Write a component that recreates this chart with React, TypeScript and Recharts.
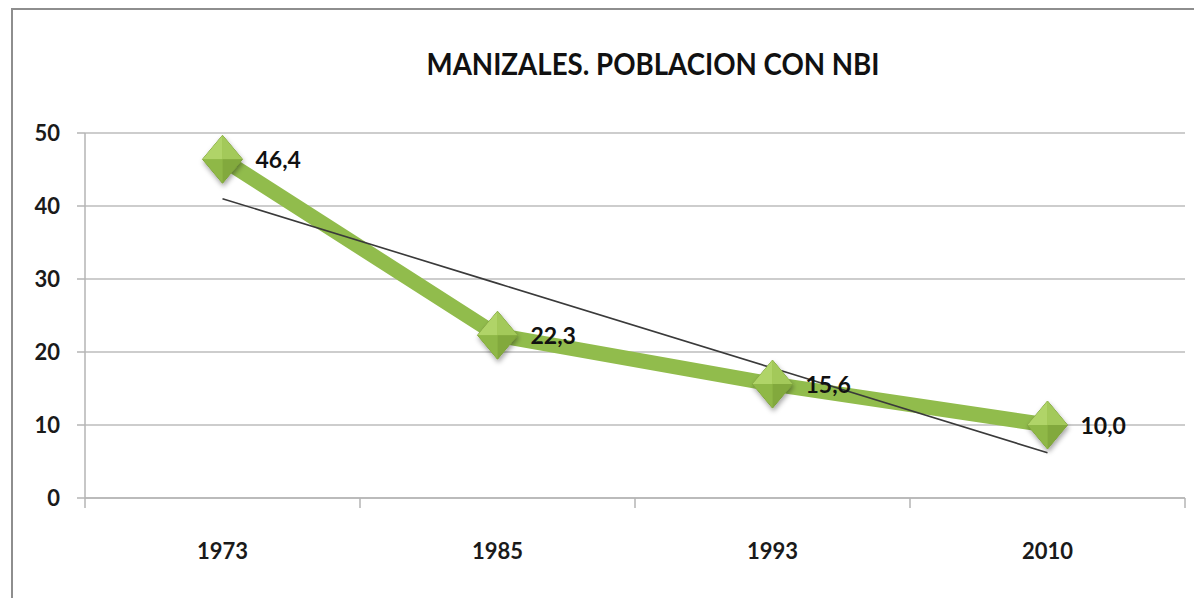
import React from 'react';
import { LineChart, Line, XAxis, YAxis, CartesianGrid, LabelList } from 'recharts';

const years = ['1973', '1985', '1993', '2010'];
const nbiValues = [46.4, 22.3, 15.6, 10.0];
const trendValues = [41.0, 29.4, 17.8, 6.2];
const yTicks = [0, 10, 20, 30, 40, 50];
const categoryIndex = [0, 1, 2, 3];
const categoryBounds = [-0.5, 0.5, 1.5, 2.5, 3.5];
const title = 'MANIZALES. POBLACION CON NBI';

const data = years.map((y, i) => ({ i: categoryIndex[i], year: y, nbi: nbiValues[i], trend: trendValues[i] }));

const FONT = 'Lato, "Open Sans", sans-serif';

const Diamond = (props: any) => {
  const { cx, cy, index } = props;
  if (cx == null || cy == null) return null;
  const w = 20;
  const h = 24;
  return (
    <g key={`d${index}`} filter="url(#dshadow)">
      <polygon points={`${cx},${cy - h} ${cx + w},${cy} ${cx},${cy + h} ${cx - w},${cy}`} fill="#94bd4a" stroke="#7a9c3a" strokeWidth={1} />
      <polygon points={`${cx},${cy - h} ${cx - w},${cy} ${cx},${cy}`} fill="#b0d468" />
      <polygon points={`${cx},${cy - h} ${cx + w},${cy} ${cx},${cy}`} fill="#a3c95a" />
      <polygon points={`${cx - w},${cy} ${cx},${cy + h} ${cx},${cy}`} fill="#8fb846" />
      <polygon points={`${cx + w},${cy} ${cx},${cy + h} ${cx},${cy}`} fill="#82a93d" />
    </g>
  );
};

const ValueLabel = (props: any) => {
  const { x, y, value, index } = props;
  if (x == null || y == null) return null;
  return (
    <text key={`l${index}`} x={x + 33} y={y} dominantBaseline="central" fontFamily={FONT} fontWeight={700} fontSize={23} fill="#111">
      {Number(value).toFixed(1).replace('.', ',')}
    </text>
  );
};

const BlankTick = () => <g />;

export default function App() {
  return (
    <div style={{ position: 'absolute', left: 0, top: 0, width: 1194, height: 598, overflow: 'hidden', background: '#fff' }}>
      <div style={{ position: 'absolute', left: 11, top: 8, width: 1300, height: 700, border: '2px solid #8e8e8e' }} />
      <div style={{ position: 'absolute', left: 0, top: 0 }}>
        <LineChart width={1194} height={598} data={data} margin={{ top: 133, right: 9, bottom: 98, left: 0 }}>
          <defs>
            <filter id="dshadow" x="-50%" y="-50%" width="200%" height="200%">
              <feDropShadow dx="1" dy="3" stdDeviation="2.5" floodColor="#000" floodOpacity="0.35" />
            </filter>
          </defs>
          <CartesianGrid horizontal={true} vertical={false} stroke="#bdbdbd" strokeWidth={1.5} />
          <XAxis
            xAxisId="bounds"
            dataKey="i"
            type="number"
            domain={[-0.5, 3.5]}
            ticks={categoryBounds}
            tick={BlankTick}
            tickSize={10}
            height={1}
            axisLine={{ stroke: '#b5b5b5', strokeWidth: 1.5 }}
            tickLine={{ stroke: '#b5b5b5', strokeWidth: 1.5 }}
            allowDataOverflow
          />
          <XAxis
            xAxisId="years"
            dataKey="i"
            type="number"
            domain={[-0.5, 3.5]}
            ticks={categoryIndex}
            tickFormatter={(v: number) => years[v]}
            height={1}
            axisLine={false}
            tickLine={false}
            tickMargin={38}
            tick={{ fontFamily: FONT, fontWeight: 700, fontSize: 22, fill: '#1a1a1a' }}
            allowDataOverflow
          />
          <YAxis
            domain={[0, 50]}
            ticks={yTicks}
            width={85}
            tickSize={8}
            tickMargin={17}
            axisLine={{ stroke: '#b5b5b5', strokeWidth: 1.5 }}
            tickLine={{ stroke: '#b5b5b5', strokeWidth: 1.5 }}
            tick={{ fontFamily: FONT, fontWeight: 700, fontSize: 22, fill: '#1a1a1a' }}
          />
          <Line
            xAxisId="years"
            type="linear"
            dataKey="nbi"
            stroke="#91bc4c"
            strokeWidth={15}
            strokeLinejoin="round"
            dot={Diamond}
            activeDot={false}
            isAnimationActive={false}
          >
            <LabelList dataKey="nbi" content={ValueLabel} />
          </Line>
          <Line
            xAxisId="years"
            type="linear"
            dataKey="trend"
            stroke="#3a3a3a"
            strokeWidth={1.6}
            dot={false}
            activeDot={false}
            isAnimationActive={false}
          />
        </LineChart>
      </div>
      <svg style={{ position: 'absolute', left: 0, top: 0 }} width={1194} height={100}>
        <text x={653} y={75} textAnchor="middle" fontFamily={FONT} fontWeight={700} fontSize={30} fill="#111" textLength={453} lengthAdjust="spacingAndGlyphs">
          {title}
        </text>
      </svg>
    </div>
  );
}
